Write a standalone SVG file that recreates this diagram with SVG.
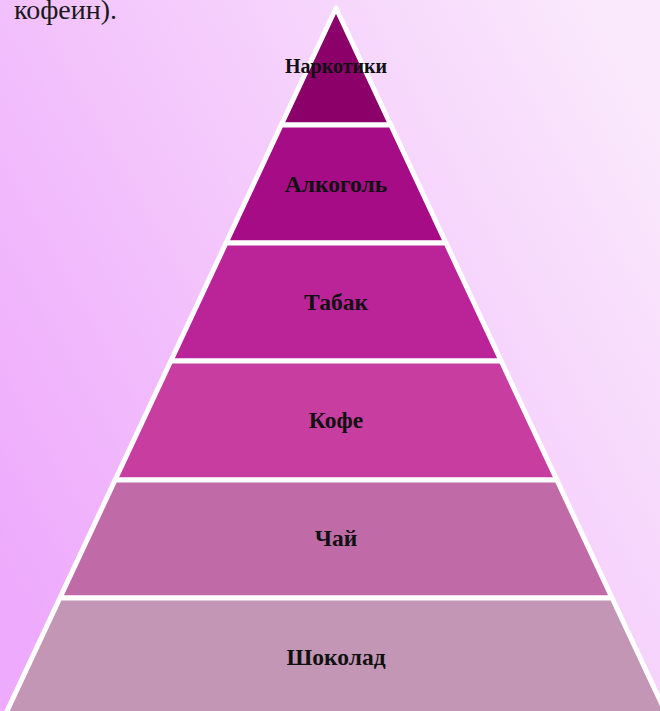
<svg xmlns="http://www.w3.org/2000/svg" width="660" height="711" viewBox="0 0 660 711">
<defs>
<linearGradient id="bg" x1="0" y1="0.8" x2="1" y2="0.2">
<stop offset="0" stop-color="#eeaafc"/>
<stop offset="1" stop-color="#fae8fc"/>
</linearGradient>
<style>
.tier{stroke:#ffffff;stroke-width:5;stroke-linejoin:round}
.lbl{font-family:"Liberation Serif","Times New Roman",serif;font-weight:bold;font-size:23.5px;fill:#111111;text-anchor:middle}
.top{font-family:"Liberation Serif","Times New Roman",serif;font-size:28px;fill:#1a1a1a}
</style>
</defs>
<rect width="660" height="711" fill="url(#bg)"/>
<text class="top" x="14" y="19">кофеин).</text>
<g id="tier-narkotiki">
<polygon class="tier" fill="#8b0069" points="336,8 390.8,125 281.2,125"/>
<text class="lbl" x="336" y="73" style="font-size:20px">Наркотики</text>
</g>
<g id="tier-alkogol">
<polygon class="tier" fill="#a50c85" points="281.2,125 390.8,125 446,243 226,243"/>
<text class="lbl" x="336" y="192">Алкоголь</text>
</g>
<g id="tier-tabak">
<polygon class="tier" fill="#bb2399" points="226,243 446,243 501.2,361 170.8,361"/>
<text class="lbl" x="336" y="310">Табак</text>
</g>
<g id="tier-kofe">
<polygon class="tier" fill="#c83da0" points="170.8,361 501.2,361 556.9,480 115.1,480"/>
<text class="lbl" x="336" y="428">Кофе</text>
</g>
<g id="tier-chai">
<polygon class="tier" fill="#c06ba7" points="115.1,480 556.9,480 612.1,598 59.9,598"/>
<text class="lbl" x="336" y="546">Чай</text>
</g>
<g id="tier-shokolad">
<polygon class="tier" fill="#c296b4" points="59.9,598 612.1,598 667.3,716 4.7,716"/>
<text class="lbl" x="336" y="665">Шоколад</text>
</g>
<g id="connectors"></g>
</svg>
